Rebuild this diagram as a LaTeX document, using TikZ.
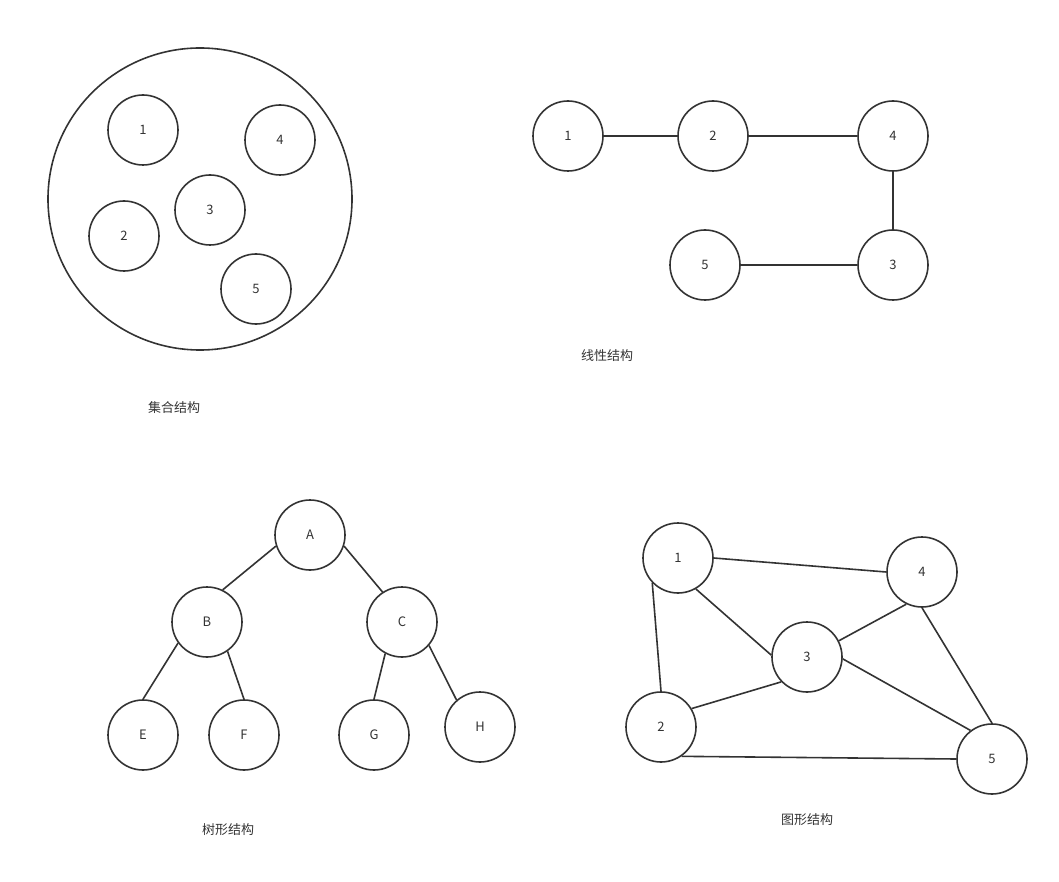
\documentclass[tikz,border=0pt]{standalone}
\usepackage{fontspec}
\setmainfont{Noto Sans CJK SC}
\usetikzlibrary{shapes.geometric}
\definecolor{ink}{HTML}{333333}
\begin{document}
\begin{tikzpicture}[x=1pt,y=-1pt,
  vnode/.style={draw=ink,line width=1.6pt,circle,minimum size=70pt,inner sep=0pt,
    font=\fontsize{13}{15}\selectfont,text=ink},
  edge/.style={draw=ink,line width=1.6pt},
  caption/.style={font=\fontsize{13}{15}\selectfont,text=ink,inner sep=0pt}]
\useasboundingbox (0,0) rectangle (1059,882);
% set structure
\node[draw=ink,line width=1.6pt,ellipse,minimum width=304pt,minimum height=302pt,inner sep=0pt] (set) at (200,199) {};
\node[vnode] (s1) at (143,130) {1};
\node[vnode] (s4) at (280,140) {4};
\node[vnode] (s3) at (210,210) {3};
\node[vnode] (s2) at (124,236) {2};
\node[vnode] (s5) at (256,289) {5};
\node[caption] (cset) at (174,408) {集合结构};
% linear structure
\node[vnode] (l1) at (568,136) {1};
\node[vnode] (l2) at (713,136) {2};
\node[vnode] (l4) at (893,136) {4};
\node[vnode] (l3) at (893,265) {3};
\node[vnode] (l5) at (705,265) {5};
\draw[edge] (l1) -- (l2);
\draw[edge] (l2) -- (l4);
\draw[edge] (l4) -- (l3);
\draw[edge] (l3) -- (l5);
\node[caption] (clin) at (607,356) {线性结构};
% tree structure
\node[vnode] (tA) at (310,535) {A};
\node[vnode] (tB) at (207,622) {B};
\node[vnode] (tC) at (402,622) {C};
\node[vnode] (tE) at (143,735) {E};
\node[vnode] (tF) at (244,735) {F};
\node[vnode] (tG) at (374,735) {G};
\node[vnode] (tH) at (480,727) {H};
\draw[edge] (tA.198) -- (tB.64);
\draw[edge] (tA.342) -- (tC.123);
\draw[edge] (tB.216) -- (tE.north);
\draw[edge] (tB.305) -- (tF.north);
\draw[edge] (tC.242) -- (tG.north);
\draw[edge] (tC.319) -- (tH.131);
\node[caption] (ctree) at (228,830) {树形结构};
% graph structure
\node[vnode] (g1) at (678,558) {1};
\node[vnode] (g4) at (922,572) {4};
\node[vnode] (g3) at (807,657) {3};
\node[vnode] (g2) at (661,727) {2};
\node[vnode] (g5) at (992,759) {5};
\draw[edge] (g1.east) -- (g4.west);
\draw[edge] (g1.300) -- (g3.177);
\draw[edge] (g1.224) -- (g2.north);
\draw[edge] (g3.27) -- (g4.244);
\draw[edge] (g3.224) -- (g2.31);
\draw[edge] (g3.357) -- (g5.127);
\draw[edge] (g4.south) -- (g5.north);
\draw[edge] (g2.305) -- (g5.west);
\node[caption] (cgraph) at (807,820) {图形结构};
\end{tikzpicture}
\end{document}
